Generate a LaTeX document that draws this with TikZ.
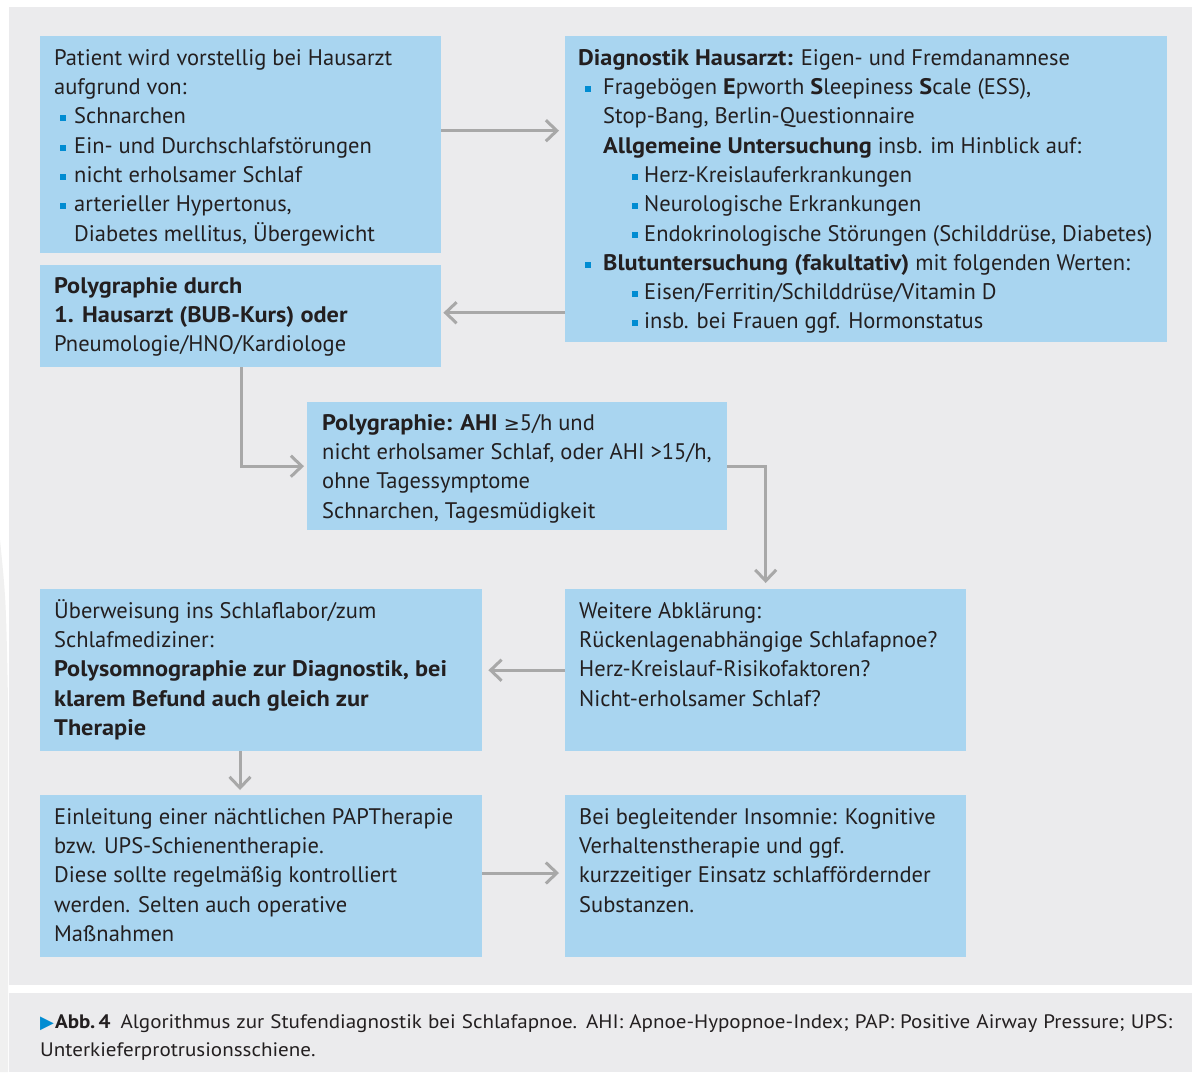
\documentclass[tikz,border=0pt]{standalone}
\usepackage{fontspec}
\setmainfont{PT Sans}[BoldFeatures={FakeStretch=1.08}]
\newfontfamily\capfont{PT Sans}[FakeStretch=1.08]
\newfontfamily\symf{DejaVu Sans}
\usetikzlibrary{arrows.meta,calc}
\definecolor{boxblue}{RGB}{169,213,240}
\definecolor{panelgray}{RGB}{235,235,237}
\definecolor{bulblue}{RGB}{0,140,210}
\definecolor{arrgray}{RGB}{168,168,168}
\definecolor{txtcol}{RGB}{35,31,32}
\newcommand\bul{\textcolor{bulblue}{\rule[2.6pt]{6pt}{6pt}}}
\newcommand\fl{\rule{0pt}{20pt}}
\begin{document}
\begin{tikzpicture}[x=1pt,y=-1pt,
  box/.style={fill=boxblue, draw=none, inner sep=0pt, anchor=north west},
  txtnode/.style={anchor=north west, inner sep=0pt, align=left, text=txtcol,
     font=\fontsize{22.5pt}{29.3pt}\selectfont},
  conn/.style={draw=arrgray, line width=3pt,
     -{Straight Barb[length=11pt,width=21pt]}}]
\useasboundingbox (0,0) rectangle (1192,1072);
\fill[white] (0,0) rectangle (1192,1072);
\fill[black!6] (0,540) .. controls (6,600) .. (8,700) -- (8,1072) -- (0,1072) -- cycle;
\fill[panelgray] (9,7) rectangle (1192,985);
\fill[panelgray] (9,993) rectangle (1192,1072);

% boxes
\node[box, minimum width=401pt, minimum height=217pt] (a) at (40,36) {};
\node[box, minimum width=602pt, minimum height=306pt] (b) at (565,36) {};
\node[box, minimum width=401pt, minimum height=102pt] (c) at (40,265) {};
\node[box, minimum width=420pt, minimum height=128pt] (d) at (307,402) {};
\node[box, minimum width=442pt, minimum height=162pt] (e) at (40,589) {};
\node[box, minimum width=401pt, minimum height=162pt] (f) at (565,589) {};
\node[box, minimum width=442pt, minimum height=162pt] (g) at (40,795) {};
\node[box, minimum width=401pt, minimum height=162pt] (h) at (565,795) {};

% texts
\node[txtnode] (ta) at (54,45) {\fl Patient wird vorstellig bei Hausarzt\\
aufgrund von:\\
\hspace*{6pt}\bul\hspace*{8pt}Schnarchen\\
\hspace*{6pt}\bul\hspace*{8pt}Ein- und Durchschlafstörungen\\
\hspace*{6pt}\bul\hspace*{8pt}nicht erholsamer Schlaf\\
\hspace*{6pt}\bul\hspace*{8pt}arterieller Hypertonus,\\
\hspace*{20pt}Diabetes mellitus, Übergewicht};

\node[txtnode] (tb) at (578,45) {\fl\textbf{Diagnostik Hausarzt:} Eigen- und Fremdanamnese\\
\hspace*{7pt}\bul\hspace*{12pt}Fragebögen \textbf{E}pworth \textbf{S}leepiness \textbf{S}cale (ESS),\\
\hspace*{25pt}Stop-Bang, Berlin-Questionnaire\\
\hspace*{25pt}\textbf{Allgemeine Untersuchung} insb. im Hinblick auf:\\
\hspace*{54pt}\bul\hspace*{6pt}Herz-Kreislauferkrankungen\\
\hspace*{54pt}\bul\hspace*{6pt}Neurologische Erkrankungen\\
\hspace*{54pt}\bul\hspace*{6pt}Endokrinologische Störungen (Schilddrüse, Diabetes)\\
\hspace*{7pt}\bul\hspace*{12pt}\textbf{Blutuntersuchung (fakultativ)} mit folgenden Werten:\\
\hspace*{54pt}\bul\hspace*{6pt}Eisen/Ferritin/Schilddrüse/Vitamin D\\
\hspace*{54pt}\bul\hspace*{6pt}insb. bei Frauen ggf. Hormonstatus};

\node[txtnode] (tc) at (54,273) {\fl\textbf{Polygraphie durch}\\
\textbf{1. Hausarzt (BUB-Kurs) oder}\\
Pneumologie/HNO/Kardiologe};

\node[txtnode] (td) at (322,410) {\fl\textbf{Polygraphie: AHI} {\symf\fontsize{19pt}{19pt}\selectfont ≥}5/h und\\
nicht erholsamer Schlaf, oder AHI >15/h,\\
ohne Tagessymptome\\
Schnarchen, Tagesmüdigkeit};

\node[txtnode] (te) at (54,598) {\fl Überweisung ins Schlaflabor/zum\\
Schlafmediziner:\\
\textbf{Polysomnographie zur Diagnostik, bei}\\
\textbf{klarem Befund auch gleich zur}\\
\textbf{Therapie}};

\node[txtnode] (tf) at (579,598) {\fl Weitere Abklärung:\\
Rückenlagenabhängige Schlafapnoe?\\
Herz-Kreislauf-Risikofaktoren?\\
Nicht-erholsamer Schlaf?};

\node[txtnode] (tg) at (54,804) {\fl Einleitung einer nächtlichen PAPTherapie\\
bzw. UPS-Schienentherapie.\\
Diese sollte regelmäßig kontrolliert\\
werden. Selten auch operative\\
Maßnahmen};

\node[txtnode] (th) at (579,804) {\fl Bei begleitender Insomnie: Kognitive\\
Verhaltenstherapie und ggf.\\
kurzzeitiger Einsatz schlaffördernder\\
Substanzen.};

% caption
\node[anchor=north west, inner sep=0pt, align=left, text=txtcol,
  font=\capfont\fontsize{19.5pt}{27.5pt}\selectfont] (cap) at (40,1008.3)
 {\fl\makebox[1132pt][s]{{\color{bulblue}\symf\fontsize{18pt}{18pt}\selectfont ▶}\hspace*{1pt}\textbf{Abb.\,4}\hspace*{10pt}Algorithmus zur Stufendiagnostik bei Schlafapnoe. AHI: Apnoe-Hypopnoe-Index; PAP: Positive Airway Pressure; UPS:}\\
 Unterkieferprotrusionsschiene.};

% connectors
\draw[conn, shorten >=6pt] ($(a.north east)+(0,94.7)$) -- ($(b.north west)+(0,94.7)$);
\draw[conn, shorten >=2pt] (b.west |- 0,312.7) -- (c.east |- 0,312.7);
\draw[conn, shorten >=3pt] (c.south -| 241,0) |- (d.west);
\draw[conn, shorten >=6pt] (d.east) -| (f.north);
\draw[conn, shorten >=6pt] (f.west) -- (e.east);
\draw[conn, shorten >=5pt] (e.south -| 240,0) -- (g.north -| 240,0);
\draw[conn, shorten >=6pt] (g.east |- 0,873) -- (h.west |- 0,873);
\end{tikzpicture}
\end{document}
